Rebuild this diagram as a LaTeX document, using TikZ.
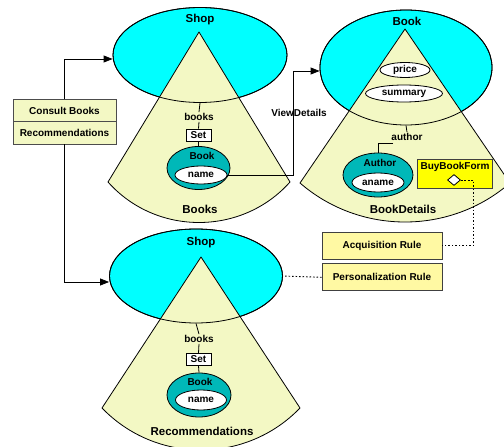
\documentclass[tikz,border=0pt]{standalone}
\usepackage{fontspec}
\setmainfont{Liberation Sans}
\usetikzlibrary{
    positioning,
    calc,
    shapes.geometric,
    arrows.meta
}
\definecolor{ShopCyan}{HTML}{00FFFF}
\definecolor{PaleYellow}{HTML}{F3F8C4}
\definecolor{RuleYellow}{HTML}{FFF9A3}
\definecolor{FormYellow}{HTML}{FFFF00}
\definecolor{EntityTeal}{HTML}{00B8B8}
\newcommand{\smalltxt}{\fontsize{10}{12}\selectfont\bfseries}
\newcommand{\bigtxt}{\fontsize{11.5}{13}\selectfont\bfseries}

\tikzset{
    shell/.style={ellipse, fill=ShopCyan, draw, line width=0.8pt, inner sep=0pt},
    shellline/.style={ellipse, draw, line width=0.8pt, inner sep=0pt},
    sector/.style={fill=PaleYellow, draw, line width=0.8pt, line join=round},
    entity/.style={ellipse, fill=EntityTeal, draw, line width=0.8pt, inner sep=0pt},
    attr/.style={ellipse, fill=white, draw, line width=0.8pt, inner sep=0pt, font=\smalltxt},
    lbl/.style={font=\smalltxt, inner sep=1pt},
    biglbl/.style={font=\bigtxt, inner sep=1pt},
    setbox/.style={rectangle, draw, fill=white, line width=0.7pt, inner sep=1pt,
        minimum width=25pt, minimum height=12pt, font=\smalltxt},
    opbox/.style={rectangle, draw=black!70, fill=PaleYellow, line width=0.8pt, outer sep=0pt,
        minimum width=103pt, minimum height=22.5pt, font=\smalltxt},
    rulebox/.style={rectangle, draw=black!75, fill=RuleYellow, line width=0.8pt,
        minimum width=120pt, minimum height=27pt, font=\smalltxt},
    formbox/.style={rectangle, draw=black!75, fill=FormYellow, line width=0.8pt,
        minimum width=75pt, minimum height=29pt},
    link/.style={line width=0.8pt},
    arr/.style={link, -{Triangle[length=9pt,width=7pt]}},
    dotlink/.style={line width=0.9pt, dash pattern=on 1.6pt off 1.9pt}
}

\begin{document}
\begin{tikzpicture}[x=1pt, y=-1pt]
    \useasboundingbox (0,0) rectangle (504,447);
    \clip (0,0) rectangle (504,447);

    % Shop / Books
    \node[shell, minimum width=174pt, minimum height=95pt] (shopA) at (200,55) {};
    \draw[sector] (199,32) -- (108,182) .. controls (156,236) and (242,236) .. (290,182) -- cycle;
    \node[shellline, minimum width=174pt, minimum height=95pt] at (shopA) {};
    \node[biglbl] (shopAlbl) at (200,20) {Shop};
    \node[lbl] (booksA) at (199,117) {books};
    \node[setbox] (setA) at (198.5,135) {Set};
    \node[entity, minimum width=63pt, minimum height=43pt] (bookA) at (198.5,168) {};
    \node[lbl] (bookAlbl) at (202,156) {Book};
    \node[attr, minimum width=52pt, minimum height=18pt] (nameA) at (201,175) {name};
    \node[biglbl] (booksAlbl) at (200,209) {Books};
    \draw[link] (shopA.south) -- (booksA.north);
    \draw[link] (booksA.south) -- (setA.north);
    \draw[link] (setA.south) -- (bookA.north);

    % Book / BookDetails
    \node[shell, minimum width=172pt, minimum height=115pt] (bookE) at (406,67.5) {};
    \draw[sector] (405,29) -- (300,183) .. controls (360,235) and (450,235) .. (510,183) -- cycle;
    \node[shellline, minimum width=172pt, minimum height=115pt] at (bookE) {};
    \node[biglbl] (bookElbl) at (407,21) {Book};
    \node[attr, minimum width=50pt, minimum height=15pt] (price) at (405,70) {price};
    \node[attr, minimum width=77pt, minimum height=17pt] (summary) at (404,93.5) {summary};
    \node[lbl] (authL) at (407,137) {author};
    \node[entity, minimum width=70pt, minimum height=44pt] (authE) at (378,175) {};
    \node[lbl] (authElbl) at (380,163) {Author};
    \node[attr, minimum width=52pt, minimum height=19pt] (aname) at (378,182.5) {aname};
    \node[biglbl] (detailsL) at (403,209) {BookDetails};
    \draw[link] (bookE.south) -- (authL.north);
    \draw[link] ([xshift=3pt,yshift=-1.5pt]authL.south west) -| (authE.north);
    \node[formbox] (buyF) at (454.5,173.5) {};
    \node[lbl] (buyFlbl) at (455,167) {BuyBookForm};
    \node[diamond, draw, fill=white, line width=0.8pt, inner sep=0pt,
        minimum width=13pt, minimum height=11pt] (buyD) at (454,180) {};

    % Shop / Recommendations
    \node[shell, minimum width=173pt, minimum height=94pt] (shopB) at (196,276) {};
    \draw[sector] (201,257) -- (102,408) .. controls (156,464) and (246,464) .. (300,408) -- cycle;
    \node[shellline, minimum width=173pt, minimum height=94pt] at (shopB) {};
    \node[biglbl] (shopBlbl) at (201,243) {Shop};
    \node[lbl] (booksB) at (199,339) {books};
    \node[setbox] (setB) at (198.5,359.5) {Set};
    \node[entity, minimum width=64pt, minimum height=44pt] (bookB) at (199,395) {};
    \node[lbl] (bookBlbl) at (200,382) {Book};
    \node[attr, minimum width=51pt, minimum height=20pt] (nameB) at (201,400) {name};
    \node[biglbl] (recomL) at (202,431) {Recommendations};
    \draw[link] (shopB.south) -- (booksB.north);
    \draw[link] (booksB.south) -- (setB.north);
    \draw[link] (setB.south) -- (bookB.north);

    % operations and rules
    \node[opbox] (consult) at (64.5,110.5) {Consult Books};
    \node[opbox, below=0pt of consult] (recom) {Recommendations};
    \node[rulebox] (acq) at (382,245.5) {Acquisition Rule};
    \node[rulebox, below=4pt of acq] (pers) {Personalization Rule};

    \draw[arr] (consult.north) |- ($(shopA.west)+(0,4)$);
    \draw[arr] (recom.south) |- ($(shopB.west)+(0,6)$);
    \coordinate (vd) at (293,71);
    \draw[arr] (nameA.east) -| (vd) -- (bookE.west |- vd);
    \node[lbl] (viewL) at (299,113) {ViewDetails};
    \draw[dotlink] (buyD.east) -| ([xshift=31pt]acq.east) -- (acq.east);
    \draw[dotlink] (pers.west) -- (shopB.east);
\end{tikzpicture}
\end{document}
